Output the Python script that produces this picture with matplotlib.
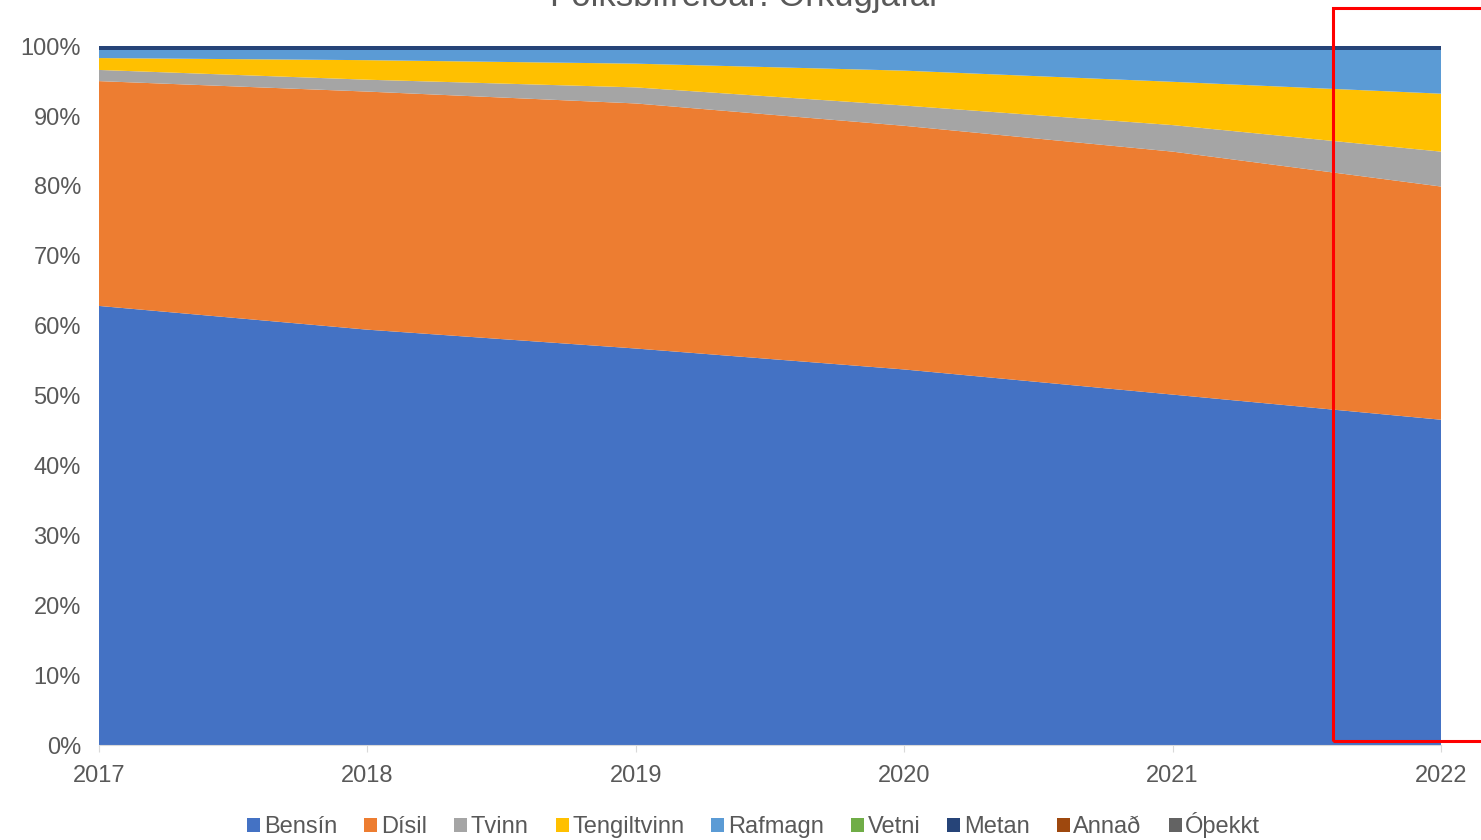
import numpy as np
import matplotlib.pyplot as plt
from matplotlib.patches import Rectangle
from matplotlib.ticker import PercentFormatter

plt.rcParams['font.family'] = ['Liberation Sans', 'DejaVu Sans']

# -------------------------------------------------------
# Data: share of passenger cars by energy source (%)
# -------------------------------------------------------
years = [2017, 2018, 2019, 2020, 2021, 2022]
labels = ['Bensín', 'Dísil', 'Tvinn', 'Tengiltvinn', 'Rafmagn',
          'Vetni', 'Metan', 'Annað', 'Óþekkt']

bensin = [62.9, 59.5, 56.8, 53.8, 50.2, 46.6]
disil = [32.2, 34.1, 35.1, 34.9, 34.8, 33.4]
tvinn = [1.6, 1.7, 2.3, 2.9, 3.8, 5.0]
tengiltvinn = [1.7, 2.8, 3.4, 5.0, 6.2, 8.3]
rafmagn = [1.2, 1.5, 2.0, 3.0, 4.6, 6.3]
vetni = [0.01, 0.01, 0.01, 0.01, 0.01, 0.01]
metan = [0.45, 0.45, 0.45, 0.45, 0.45, 0.45]
annad = [0.02, 0.02, 0.02, 0.02, 0.02, 0.02]
othekkt = [0.02, 0.02, 0.02, 0.02, 0.02, 0.02]

colors = ['#4472C4', '#ED7D31', '#A5A5A5', '#FFC000', '#5B9BD5',
          '#70AD47', '#264478', '#9E480E', '#636363']

series = np.array([bensin, disil, tvinn, tengiltvinn, rafmagn,
                   vetni, metan, annad, othekkt])
series = series / series.sum(axis=0) * 100

# -------------------------------------------------------
# Plot
# -------------------------------------------------------
fig = plt.figure(figsize=(14.81, 8.40), dpi=100)
ax = fig.add_axes([0.0668, 0.113, 0.9062, 0.832])

ax.stackplot(years, series, labels=labels, colors=colors, linewidth=0)

ax.set_xlim(2017, 2022)
ax.set_ylim(0, 100)
ax.set_xticks(years)
ax.set_yticks(range(0, 101, 10))
ax.yaxis.set_major_formatter(PercentFormatter(decimals=0))

for s in ['top', 'right', 'left']:
    ax.spines[s].set_visible(False)
ax.spines['bottom'].set_color('#D9D9D9')
ax.tick_params(axis='y', length=0, pad=13, labelsize=17, labelcolor='#595959')
ax.tick_params(axis='x', length=5, color='#D9D9D9', pad=9,
               labelsize=17, labelcolor='#595959')

# title sits mostly above the visible area (cropped like the original)
fig.text(0.503, 1 - 6 / 840, 'Fólksbifreiðar: Orkugjafar', ha='center',
         va='baseline', fontsize=25, color='#595959')

leg = ax.legend(loc='center', bbox_to_anchor=(0.488, -0.115), ncol=9,
                frameon=False, fontsize=17, handlelength=0.55,
                handleheight=0.55, handletextpad=0.15, columnspacing=1.15,
                labelcolor='#595959')

# red highlight box around 2022
fig.add_artist(Rectangle((1333 / 1481, 1 - 741 / 840), 0.2, 733 / 840,
                         transform=fig.transFigure, fill=False,
                         edgecolor='#FF0000', linewidth=2.2, clip_on=False))

fig.savefig('out.png', dpi=100)
